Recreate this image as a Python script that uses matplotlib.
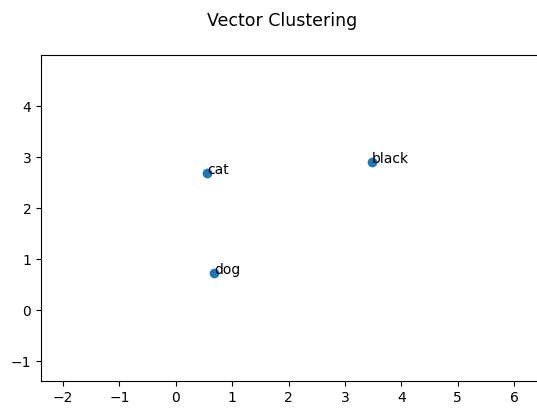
#!/usr/bin/env python3

import matplotlib
matplotlib.use( "Agg" )
import matplotlib.pyplot as plt

# word vectors (2-d projection)
words = [ "cat", "dog", "black" ]
xs = [ 0.55, 0.68, 3.48 ]
ys = [ 2.69, 0.72, 2.90 ]

x_ticks = [ -2, -1, 0, 1, 2, 3, 4, 5, 6 ]
y_ticks = [ -1, 0, 1, 2, 3, 4 ]

def plot( pdfname="out.png" ):
    fig = plt.figure( figsize=(5.37, 4.10), dpi=100 )
    # axes runs a little past the right edge, like the original crop
    ax = fig.add_axes( [ 41/537, 28.3/410, 501.4/537, 325.7/410 ] )

    ax.scatter( xs, ys, s=36, color="#1f77b4" )
    for i in range( len(words) ):
        ax.annotate( words[i], ( xs[i], ys[i] ), fontsize=10 )

    ax.set_xlim( -2.39, 6.5 )
    ax.set_ylim( -1.39, 5.0 )
    ax.set_xticks( x_ticks )
    ax.set_yticks( y_ticks )
    ax.tick_params( labelsize=10 )

    fig.suptitle( "Vector Clustering", x=282/537, y=1 - 21/410, va="center", fontsize=12.5 )

    plt.savefig( pdfname, dpi=100 )
    plt.clf()
    return

def main():
    plot( "out.png" )
    return

if __name__ == "__main__":
    main()
